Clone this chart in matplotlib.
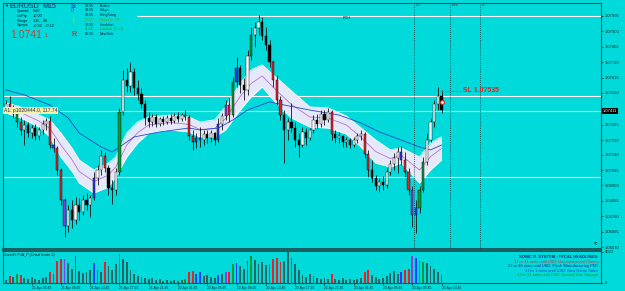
import matplotlib
matplotlib.use("Agg")
import matplotlib.pyplot as plt
import numpy as np

plt.rcParams['font.family'] = ['Liberation Sans', 'DejaVu Sans']

# ---------------- data (EURUSD M15 candles) ----------------
open_ = [1.07428, 1.07452, 1.07421, 1.07391, 1.07341, 1.07292, 1.07323, 1.07273, 1.07304, 1.07255,
         1.07292, 1.07329, 1.07347, 1.07199, 1.07181, 1.07045, 1.06860, 1.06700, 1.06798, 1.06737,
         1.06829, 1.06786, 1.06860, 1.06829, 1.06872, 1.06996, 1.07045, 1.07132, 1.07057, 1.06934,
         1.06922, 1.07033, 1.07403, 1.07600, 1.07563, 1.07650, 1.07551, 1.07514, 1.07452, 1.07366,
         1.07341, 1.07372, 1.07329, 1.07360, 1.07341, 1.07366, 1.07347, 1.07378, 1.07360, 1.07384,
         1.07372, 1.07255, 1.07218, 1.07243, 1.07230, 1.07267, 1.07243, 1.07273, 1.07230, 1.07329,
         1.07378, 1.07446, 1.07384, 1.07588, 1.07674, 1.07570, 1.07539, 1.07749, 1.07878, 1.07921,
         1.07958, 1.07872, 1.07816, 1.07711, 1.07600, 1.07477, 1.07384, 1.07292, 1.07341, 1.07304,
         1.07230, 1.07199, 1.07280, 1.07243, 1.07292, 1.07354, 1.07329, 1.07391, 1.07354, 1.07403,
         1.07267, 1.07243, 1.07255, 1.07218, 1.07230, 1.07199, 1.07230, 1.07255, 1.07267, 1.07144,
         1.07045, 1.06996, 1.06946, 1.06971, 1.06953, 1.07033, 1.07082, 1.07119, 1.07156, 1.07107,
         1.07033, 1.06922, 1.06767, 1.06811, 1.06922, 1.07095, 1.07230, 1.07341, 1.07452, 1.07502]
high = [1.07477, 1.07502, 1.07446, 1.07415, 1.07372, 1.07354, 1.07341, 1.07323, 1.07329, 1.07310,
        1.07354, 1.07366, 1.07378, 1.07243, 1.07193, 1.07057, 1.06872, 1.06829, 1.06860, 1.06879,
        1.06872, 1.06891, 1.06903, 1.06891, 1.07033, 1.07076, 1.07169, 1.07156, 1.07076, 1.06983,
        1.07057, 1.07428, 1.07662, 1.07674, 1.07711, 1.07674, 1.07600, 1.07551, 1.07477, 1.07403,
        1.07391, 1.07391, 1.07372, 1.07378, 1.07384, 1.07391, 1.07397, 1.07403, 1.07397, 1.07415,
        1.07384, 1.07292, 1.07273, 1.07310, 1.07292, 1.07292, 1.07292, 1.07280, 1.07366, 1.07397,
        1.07477, 1.07489, 1.07619, 1.07742, 1.07693, 1.07613, 1.07786, 1.07927, 1.07958, 1.08001,
        1.07989, 1.07927, 1.07847, 1.07724, 1.07631, 1.07502, 1.07415, 1.07366, 1.07459, 1.07341,
        1.07273, 1.07310, 1.07304, 1.07304, 1.07384, 1.07391, 1.07415, 1.07415, 1.07428, 1.07415,
        1.07292, 1.07280, 1.07261, 1.07249, 1.07243, 1.07249, 1.07273, 1.07292, 1.07280, 1.07169,
        1.07107, 1.07014, 1.06996, 1.07008, 1.07057, 1.07107, 1.07150, 1.07187, 1.07193, 1.07156,
        1.07057, 1.06946, 1.06860, 1.06946, 1.07125, 1.07273, 1.07366, 1.07477, 1.07557, 1.07539]
low = [1.07403, 1.07409, 1.07366, 1.07310, 1.07261, 1.07199, 1.07249, 1.07243, 1.07230, 1.07230,
       1.07267, 1.07292, 1.07181, 1.07156, 1.07014, 1.06829, 1.06632, 1.06663, 1.06687, 1.06712,
       1.06737, 1.06767, 1.06798, 1.06755, 1.06860, 1.06953, 1.07014, 1.07033, 1.06891, 1.06835,
       1.06891, 1.07014, 1.07384, 1.07526, 1.07526, 1.07508, 1.07477, 1.07428, 1.07323, 1.07310,
       1.07317, 1.07310, 1.07317, 1.07323, 1.07329, 1.07329, 1.07335, 1.07341, 1.07347, 1.07354,
       1.07230, 1.07169, 1.07181, 1.07187, 1.07199, 1.07212, 1.07218, 1.07199, 1.07218, 1.07292,
       1.07354, 1.07341, 1.07372, 1.07557, 1.07520, 1.07477, 1.07508, 1.07724, 1.07804, 1.07878,
       1.07847, 1.07786, 1.07681, 1.07557, 1.07446, 1.07354, 1.07088, 1.07230, 1.07280, 1.07187,
       1.07125, 1.07187, 1.07199, 1.07230, 1.07273, 1.07304, 1.07310, 1.07323, 1.07341, 1.07230,
       1.07212, 1.07212, 1.07187, 1.07187, 1.07181, 1.07187, 1.07212, 1.07230, 1.07119, 1.07002,
       1.06971, 1.06922, 1.06909, 1.06922, 1.06934, 1.07014, 1.07045, 1.07027, 1.07076, 1.07002,
       1.06891, 1.06693, 1.06656, 1.06780, 1.06909, 1.07076, 1.07218, 1.07310, 1.07415, 1.07397]
close = [1.07452, 1.07421, 1.07391, 1.07341, 1.07292, 1.07323, 1.07273, 1.07304, 1.07255, 1.07292,
         1.07329, 1.07347, 1.07199, 1.07181, 1.07045, 1.06860, 1.06700, 1.06798, 1.06737, 1.06829,
         1.06786, 1.06860, 1.06829, 1.06872, 1.06996, 1.07045, 1.07132, 1.07057, 1.06934, 1.06922,
         1.07033, 1.07403, 1.07600, 1.07563, 1.07650, 1.07551, 1.07514, 1.07452, 1.07366, 1.07341,
         1.07372, 1.07329, 1.07360, 1.07341, 1.07366, 1.07347, 1.07378, 1.07360, 1.07384, 1.07372,
         1.07255, 1.07218, 1.07243, 1.07230, 1.07267, 1.07243, 1.07273, 1.07230, 1.07329, 1.07378,
         1.07446, 1.07384, 1.07588, 1.07674, 1.07570, 1.07539, 1.07749, 1.07878, 1.07921, 1.07958,
         1.07872, 1.07816, 1.07711, 1.07600, 1.07477, 1.07384, 1.07292, 1.07341, 1.07304, 1.07230,
         1.07199, 1.07280, 1.07243, 1.07292, 1.07354, 1.07329, 1.07391, 1.07354, 1.07403, 1.07267,
         1.07243, 1.07255, 1.07218, 1.07230, 1.07199, 1.07230, 1.07255, 1.07267, 1.07144, 1.07045,
         1.06996, 1.06946, 1.06971, 1.06953, 1.07033, 1.07082, 1.07119, 1.07156, 1.07107, 1.07033,
         1.06922, 1.06767, 1.06811, 1.06922, 1.07095, 1.07230, 1.07341, 1.07452, 1.07502, 1.07415]
volume = [400, 940, 800, 1200, 1070, 670, 540, 800, 540, 400,
          670, 800, 1480, 1200, 2820, 3080, 3080, 2550, 1880, 3490,
          1610, 1340, 1480, 1740, 2550, 1740, 1480, 2680, 2150, 1740,
          2410, 3750, 3080, 2680, 1740, 1200, 940, 800, 670, 540,
          670, 400, 540, 270, 400, 270, 400, 270, 400, 540,
          1480, 1610, 1200, 1480, 940, 1070, 800, 670, 1070, 1200,
          1480, 1480, 2410, 2550, 2150, 1880, 2820, 3490, 2950, 2410,
          2680, 2280, 2410, 3080, 3220, 2680, 2820, 4023, 3220, 2410,
          1740, 1070, 800, 1200, 940, 670, 540, 670, 540, 1200,
          540, 400, 670, 400, 540, 400, 540, 670, 1480, 1740,
          1070, 800, 540, 670, 940, 1340, 1610, 1200, 1480, 1740,
          1880, 3490, 3220, 2820, 2680, 2550, 2150, 1880, 1480, 1070]
# PVA class per bar: n normal, r climax bear, g climax bull, b rising bull, m rising bear
bar_class = list("nrngrnnnnn" "nnrbrrmnnn" "nnnnbnnrnn" "ngnnnnnnnn" "nnnnnnnnng"
                 "rrbbnnnnbn" "mrgbnnngnn" "nnnrrrnnnn" "nnnnnnnnnr" "nnnnnnnnrr"
                 "nnnnnnnnbr" "rmbggnnnnn")

band_idx = [0, 4, 9, 12, 15, 18, 20, 24, 28, 30, 33, 36, 39, 45, 50, 53, 57, 60, 64, 67,
            70, 74, 78, 83, 88, 93, 97, 101, 105, 108, 113, 116, 119]
band_upper = [1.07459, 1.07434, 1.07384, 1.07354, 1.07273, 1.07181, 1.07107, 1.07045, 1.07088, 1.07125,
              1.07273, 1.07341, 1.07372, 1.07384, 1.07372, 1.07341, 1.07354, 1.07434, 1.07582, 1.07662,
              1.07693, 1.07613, 1.07533, 1.07434, 1.07428, 1.07378, 1.07304, 1.07230, 1.07169, 1.07181,
              1.07125, 1.07212, 1.07249]
band_lower = [1.07397, 1.07366, 1.07310, 1.07249, 1.07125, 1.07039, 1.06965, 1.06903, 1.06940, 1.07002,
              1.07125, 1.07212, 1.07273, 1.07292, 1.07280, 1.07249, 1.07249, 1.07292, 1.07415, 1.07496,
              1.07557, 1.07452, 1.07366, 1.07310, 1.07304, 1.07267, 1.07187, 1.07088, 1.07064, 1.07088,
              1.06965, 1.07045, 1.07107]
band_mid = [1.07428, 1.07400, 1.07347, 1.07301, 1.07199, 1.07110, 1.07036, 1.06974, 1.07014, 1.07064,
            1.07199, 1.07276, 1.07323, 1.07338, 1.07326, 1.07295, 1.07301, 1.07363, 1.07499, 1.07579,
            1.07625, 1.07533, 1.07449, 1.07372, 1.07366, 1.07323, 1.07246, 1.07159, 1.07116, 1.07135,
            1.07045, 1.07128, 1.07178]
ma_idx = [0, 5, 12, 17, 20, 26, 29, 31, 35, 42, 50, 53, 58, 62, 66, 72, 76, 83, 91, 97,
          102, 108, 113, 116, 119]
ma_slow = [1.07539, 1.07508, 1.07446, 1.07366, 1.07273, 1.07187, 1.07156, 1.07187, 1.07249, 1.07280,
           1.07304, 1.07292, 1.07304, 1.07354, 1.07415, 1.07465, 1.07446, 1.07415, 1.07384, 1.07335,
           1.07280, 1.07230, 1.07187, 1.07169, 1.07199]

price_ticks = [1.07995, 1.07900, 1.07805, 1.07710, 1.07615, 1.07520, 1.07325, 1.07230,
               1.07140, 1.07045, 1.06950, 1.06855, 1.06760, 1.06665, 1.06570]
price_tick_labels = ["1.07995", "1.07900", "1.07805", "1.07710", "1.07615", "1.07520", "1.07325",
                     "1.07230", "1.07140", "1.07045", "1.06950", "1.06855", "1.06760", "1.06665",
                     "1.06570"]
time_tick_idx = [-1, 7, 15, 23, 31, 39, 47, 55, 63, 71, 79, 87, 95, 103, 111, 119]
time_tick_labels = ["21 Apr 2015", "21 Apr 05:45", "21 Apr 09:45", "21 Apr 13:45", "21 Apr 17:45",
                    "21 Apr 21:45", "22 Apr 01:45", "22 Apr 05:45", "22 Apr 09:45", "22 Apr 13:45",
                    "22 Apr 17:45", "22 Apr 21:45", "23 Apr 01:45", "23 Apr 05:45", "23 Apr 09:45",
                    "23 Apr 13:45"]
vol_max = 4023

pdh = 1.07995
level_hi = 1.07500
level_lo = 1.07000
last_price = 1.07411
stop_loss = 1.07535
entry_price = 1.07465
session_idx = [111.5, 121.3, 129.5]
session_names = ["LO", "NYo", "LC"]

news_title = "SONIC R. SYSTEM : FFCAL HEADLINES:"
news_lines = ["1 hrs 31 mins until USD: Unemployment Claims",
              "2 hrs 46 mins until USD: Flash Manufacturing PMI",
              "3 hrs 1 mins until USD: New Home Sales",
              "3 hrs 31 mins until USD: Natural Gas Storage"]
news_colors = ["#c83a3a", "#1a2aa0", "#2a40d0", "#1a9a2a"]

info_rows = [("Spread", "0.40"), ("LotPip", "10.00"), ("Range", "135 , 90"), ("Swaps", "-0.92 , -0.52")]
clock_rows = [("13:55", "Broker"), ("19:55", "Tokyo"), ("18:55", "HongKong"), ("13:55", "Helsinki  (3)"),
              ("12:55", "Frankfurt"), ("11:55", "London  (G+1)"), ("06:55", "NewYork")]
clock_colors = ["#101830", "#101830", "#101830", "#6aa020", "#101830", "#2a9a2a", "#101830"]

# ---------------- figure ----------------
W, H = 625, 291
BG = '#00dada'
DARK = '#0c2c2c'
SP = '#1b5555'
fig = plt.figure(figsize=(W / 100, H / 100), dpi=100)
fig.patch.set_facecolor(BG)


def fx(px):
    return px / W


def fy(py):
    return 1 - py / H


ax = fig.add_axes([fx(3), fy(249), fx(601) - fx(3), fy(3) - fy(249)])
axv = fig.add_axes([fx(3), fy(283), fx(601) - fx(3), fy(251) - fy(283)], sharex=ax)
for a in (ax, axv):
    a.set_facecolor(BG)
    for s in a.spines.values():
        s.set_color(SP)
        s.set_linewidth(0.8)
ax.spines['bottom'].set_linewidth(1.3)
axv.spines['top'].set_linewidth(1.3)

x = np.arange(len(close))
o = np.array(open_)
c = np.array(close)
h = np.array(high)
lo = np.array(low)

class_colors = {'r': '#e8202a', 'g': '#0a9a3a', 'b': '#2a3cf0', 'm': '#8a3ce0'}
faces = []
vcols = []
for oi, ci, k in zip(o, c, bar_class):
    if k in class_colors:
        faces.append(class_colors[k])
        vcols.append(class_colors[k])
    else:
        faces.append('white' if ci >= oi else 'black')
        vcols.append('#2d6464')

# horizontal levels
ax.axhline(level_hi, color='white', lw=0.8, zorder=1)
ax.axhline(level_lo, color='white', lw=0.8, zorder=1)
ax.hlines(pdh, 35.8, 163, color='white', lw=0.8, zorder=1)
ax.axhline(last_price, color='#d8f070', lw=0.8, zorder=1)

# envelope band + averages
ax.fill_between(band_idx, band_lower, band_upper, color='#e4e8f8', lw=0, zorder=2)
ax.plot(band_idx, band_upper, color='#fafaff', lw=0.7, zorder=2)
ax.plot(band_idx, band_lower, color='#fafaff', lw=0.7, zorder=2)
ax.plot(band_idx, band_mid, color='#b060c0', lw=0.5, zorder=2.5)
ax.plot(ma_idx, ma_slow, color='#2848c8', lw=0.6, zorder=2.5)

# candles
ax.vlines(x, lo, h, color='black', lw=0.55, zorder=3)
body_lo = np.minimum(o, c)
body_h = np.maximum(np.abs(c - o), 0.00003)
ax.bar(x, body_h, bottom=body_lo, width=0.6, color=faces, edgecolor='black', linewidth=0.3, zorder=4)

# session lines
for si, name in zip(session_idx, session_names):
    ax.axvline(si, color='#202020', ls=(0, (1, 1.5)), lw=0.6, zorder=3)
    ax.text(si + 0.4, 1.08072, name, fontsize=2.6, color='#303030', va='top', ha='left', zorder=6)

# stop loss + position
ax.hlines(stop_loss, 118.6, 124.6, color='#808080', lw=0.6, zorder=5)
ax.text(124.8, stop_loss, "SL 1.07535", fontsize=5, weight='bold', color='#e02020', va='center', ha='left', zorder=6)
ax.plot([119.1], [entry_price], 'o', ms=2.8, mfc='white', mec='#e02020', mew=0.8, zorder=6)

ax.text(92, pdh - 0.00002, "PDH", fontsize=2.8, color='#103040', va='top', ha='left', zorder=6)
ax.text(-0.6, last_price, "A1: p1020444.0, 117.74", fontsize=3.6, color='#202050', va='center', ha='left',
        bbox=dict(boxstyle='square,pad=0.2', fc='#f4f4a8', ec='none'), zorder=7)
ax.text(0.993, 0.025, "\u25d0", transform=ax.transAxes, fontsize=4.5, ha='right', va='center', color='black')

ax.set_xlim(-0.82, 162.57)
ax.set_ylim(1.06558, 1.08075)
ax.tick_params(axis='x', bottom=False, labelbottom=False)
ax.yaxis.tick_right()
ax.set_yticks(price_ticks, labels=price_tick_labels)
ax.tick_params(axis='y', length=1.5, width=0.5, pad=1, labelsize=3, colors=DARK)
ax.text(1.003, last_price, "1.07411", transform=ax.get_yaxis_transform(), fontsize=3, color='white',
        va='center', ha='left', bbox=dict(boxstyle='square,pad=0.25', fc='black', ec='none'),
        clip_on=False, zorder=10)

# volume panel
axv.bar(x, volume, width=0.5, color=vcols, linewidth=0)
axv.set_ylim(0, 4150)
axv.yaxis.tick_right()
axv.set_yticks([vol_max, 0], labels=[str(vol_max), "0"])
axv.tick_params(axis='y', length=1.5, width=0.5, pad=1, labelsize=3, colors=DARK)
axv.set_xticks(time_tick_idx, labels=time_tick_labels)
axv.tick_params(axis='x', length=1.5, width=0.5, pad=0.8, labelsize=2.4, colors=DARK)
for t in axv.get_xticklabels():
    t.set_ha('left')
axv.set_xlim(-0.82, 162.57)
axv.text(0.002, 0.87, "SonicR PVA_P (Chart Scale 2)", transform=axv.transAxes, fontsize=2.7,
         color='#102020', va='center', ha='left')
axv.text(0.995, 0.81, news_title, transform=axv.transAxes, fontsize=3, weight='bold', color='#1c2f80',
         ha='right', va='center')
for k, (line, col) in enumerate(zip(news_lines, news_colors)):
    axv.text(0.995, 0.656 - 0.14 * k, line, transform=axv.transAxes, fontsize=2.9, color=col,
             ha='right', va='center')

# top-left info block
fig.text(fx(4), fy(6), "\u25bc", fontsize=3, color='#102060', va='center', ha='left')
fig.text(fx(9), fy(6), "EURUSD", fontsize=5, color='#102060', va='center', ha='left')
fig.text(fx(42), fy(6), "M15", fontsize=5, color='#102060', va='center', ha='left')
fig.text(fx(71), fy(6), "S", fontsize=5, color='#1030e0', va='center', ha='left', weight='bold')
fig.text(fx(71), fy(11), "0", fontsize=3.5, color='#1030e0', va='center', ha='left')
fig.text(fx(72), fy(20), "|", fontsize=5, color='#c0d020', va='center', ha='left')
fig.text(fx(71), fy(34.5), "R", fontsize=5, color='#d03030', va='center', ha='left', weight='bold')
for k, (lab, val) in enumerate(info_rows):
    yy = 11 + 4.8 * k
    fig.text(fx(17), fy(yy), lab, fontsize=2.8, color='#101830', va='center', ha='left')
    fig.text(fx(33), fy(yy), val, fontsize=2.8, color='#101830', va='center', ha='left')
fig.text(fx(10), fy(34.5), "1.0741", fontsize=7.5, color='#d03a3a', va='center', ha='left')
fig.text(fx(44.5), fy(35.5), "1", fontsize=4, color='#d03a3a', va='center', ha='left')
for k, ((tm, name), col) in enumerate(zip(clock_rows, clock_colors)):
    yy = 5.7 + 4.75 * k
    fig.text(fx(85), fy(yy), tm, fontsize=2.6, color=col, va='center', ha='left')
    fig.text(fx(100), fy(yy), name, fontsize=2.6, color=col, va='center', ha='left')

fig.savefig("out.png", dpi=100, facecolor=BG)
